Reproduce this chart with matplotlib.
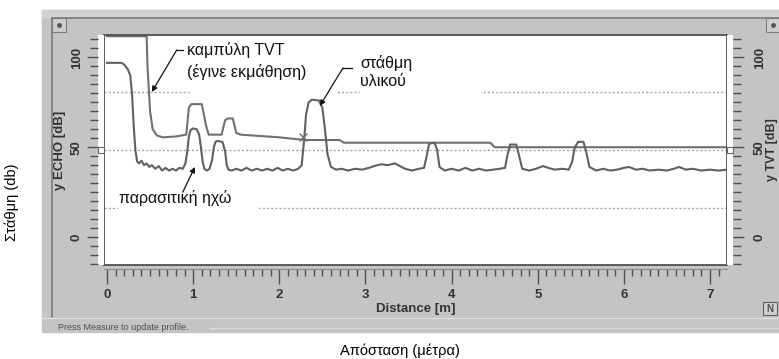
import numpy as np
import matplotlib
matplotlib.use("Agg")
import matplotlib.pyplot as plt
from matplotlib.patches import Rectangle
from matplotlib.ticker import MultipleLocator, FixedLocator

plt.rcParams['font.family'] = ['Liberation Sans', 'DejaVu Sans']

# echo profile (distance in m, level in dB)
echo_x = [0.00, 0.17, 0.20, 0.24, 0.27, 0.29, 0.31, 0.33, 0.35, 0.37,
          0.40, 0.43, 0.46, 0.49, 0.52, 0.56, 0.60, 0.64, 0.68, 0.72,
          0.76, 0.80, 0.84, 0.88, 0.91, 0.93, 0.95, 0.97, 1.00, 1.04,
          1.07, 1.09, 1.11, 1.13, 1.16, 1.19, 1.22, 1.24, 1.26, 1.28,
          1.34, 1.37, 1.39, 1.41, 1.45, 1.50, 1.56, 1.62, 1.68, 1.74,
          1.80, 1.86, 1.92, 1.98, 2.04, 2.10, 2.16, 2.22, 2.26, 2.29,
          2.31, 2.34, 2.38, 2.46, 2.50, 2.53, 2.56, 2.60, 2.66, 2.72,
          2.80, 2.88, 2.96, 3.04, 3.10, 3.18, 3.26, 3.34, 3.40, 3.46,
          3.54, 3.62, 3.68, 3.71, 3.74, 3.80, 3.83, 3.86, 3.92, 4.00,
          4.08, 4.16, 4.24, 4.32, 4.40, 4.48, 4.56, 4.62, 4.65, 4.68,
          4.75, 4.78, 4.82, 4.90, 4.98, 5.06, 5.12, 5.20, 5.28, 5.36,
          5.40, 5.43, 5.47, 5.53, 5.56, 5.60, 5.68, 5.76, 5.84, 5.92,
          6.00, 6.06, 6.14, 6.22, 6.30, 6.40, 6.50, 6.58, 6.64, 6.72,
          6.80, 6.90, 7.00, 7.10, 7.20]
echo_db = [97, 97, 96, 93.5, 90, 80, 62, 48, 42, 41,
           42.5, 40, 41, 39, 40, 38, 39.5, 37, 38.5, 37,
           38, 37, 38.5, 38, 41, 47, 56, 59.5, 60.5, 60,
           57, 50, 42, 38, 37, 38, 43, 50, 53, 53.5,
           53, 48, 40, 37.5, 37, 38, 37, 38.5, 37, 38,
           37, 38, 37, 38.5, 37, 38, 37, 38, 40, 55,
           68, 75, 76.5, 76, 72, 60, 46, 39, 37.5, 38,
           37, 38, 37.5, 38.5, 39.5, 40.5, 40, 41, 39.5, 38,
           37, 38, 38.5, 45, 52, 52.5, 49, 39, 37, 38,
           37, 38.5, 37, 38, 37, 37.5, 38, 38.5, 46, 51.5,
           51.5, 46, 38, 37, 38, 39.5, 38.5, 37.5, 38, 37.5,
           42, 50, 53, 53, 48, 39, 37, 38, 37, 37.5,
           38.5, 39, 37.5, 38, 37, 37.5, 37, 38, 39, 37.5,
           38, 37, 37.5, 37, 37.5]

# learned TVT curve (first part sits on the top edge of the display)
tvt_x = [0.00, 0.46, 0.47, 0.50, 0.53, 0.58, 0.65, 0.80, 0.92, 0.95,
         0.98, 1.10, 1.15, 1.18, 1.33, 1.37, 1.40, 1.46, 1.50, 1.55,
         2.00, 2.30, 2.70, 2.75, 4.45, 4.50, 7.20]
tvt_db = [111.8, 111.8, 95, 70, 60, 56.5, 55.5, 56, 57, 72,
          74, 74, 62, 57, 57, 65, 66, 66, 58, 57,
          55.5, 54, 54, 52.5, 52.5, 50, 50]

cross_x, cross_db = 2.28, 55.5

x_major = [0, 1, 2, 3, 4, 5, 6, 7]
y_major = [0, 50, 100]
grid_db = [16.4, 48.5, 80.5]

W, H = 779, 359
XLIM = (-0.035, 7.197)
YLIM = (-15.6, 112.5)

grey = '#c4c4c4'
dark = '#505050'
line_c = '#707070'


def fr(x0, y0, x1, y1):
    return [x0 / W, 1 - y1 / H, (x1 - x0) / W, (y1 - y0) / H]


fig = plt.figure(figsize=(W / 100, H / 100), dpi=100)

# window background drawn in pixel coords
bg = fig.add_axes([0, 0, 1, 1], zorder=-1)
bg.set_xlim(0, W)
bg.set_ylim(H, 0)
bg.axis('off')
bg.add_patch(Rectangle((42, 10), W - 42, 322, color=grey))
bg.add_patch(Rectangle((42, 10), W - 42, 7, color='#d2d2d2'))
bg.plot([52, W], [17.5, 17.5], color='#7a7a7a', lw=1.2)
bg.plot([52, 52], [17.5, 317], color='#7a7a7a', lw=1.2)
bg.plot([42, W], [318, 318], color='#e0e0e0', lw=1.0)
bg.plot([210, W], [327.5, 327.5], color='#dcdcdc', lw=1.0)
for bx, by in [(52, 18), (766, 18)]:
    bg.add_patch(Rectangle((bx, by), 14, 14, facecolor='#cdcdcd',
                           edgecolor='#808080', lw=0.8))
    bg.plot(bx + 7, by + 7, 'o', color='#555555', ms=2.5)
bg.add_patch(Rectangle((763, 302), 14, 13, facecolor='#d0d0d0',
                       edgecolor='#606060', lw=0.8))
bg.text(770, 308.5, 'N', ha='center', va='center', fontsize=7,
        fontweight='bold', color='#505050')
bg.text(58, 328, 'Press Measure to update profile.', fontsize=6.5,
        color='#505050', va='center', ha='left')
bg.text(12, 202, 'Στάθμη (db)', rotation=90, fontsize=10.5,
        ha='center', va='center')
bg.text(400, 351, 'Απόσταση (μέτρα)', fontsize=10.5,
        ha='center', va='center')

# main plot area
ax = fig.add_axes(fr(104, 35, 727, 265))
ax.set_xlim(*XLIM)
ax.set_ylim(*YLIM)
ax.set_facecolor('white')
ax.set_xticks([])
ax.set_yticks([])
for s in ax.spines.values():
    s.set_color(dark)
    s.set_linewidth(1.3)

for g in grid_db:
    ax.axhline(g, color='#a8a8a8', lw=1.0, ls=(0, (1.5, 1.5)), zorder=0.5)

# white boxes behind the annotations
for x0, x1, y0, y1 in [(0.96, 2.65, 76.5, 112), (2.94, 4.33, 76.5, 107),
                       (0.13, 1.74, 5, 29)]:
    ax.add_patch(Rectangle((x0, y0), x1 - x0, y1 - y0, color='white',
                           zorder=1))

ax.plot(tvt_x, tvt_db, color=line_c, lw=1.5, zorder=2)
ax.plot(echo_x, echo_db, color='#606060', lw=1.5, zorder=3)
ax.plot(cross_x, cross_db, marker='x', color='#707070', ms=6, mew=1.0,
        zorder=3)

# annotations
txt = dict(fontsize=11.5, color='#111111', zorder=5)
ax.text(0.93, 104.2, 'καμπύλη TVT', va='center', ha='left', **txt)
ax.text(0.93, 91.9, '(έγινε εκμάθηση)', va='center', ha='left', **txt)
ax.text(2.94, 96.9, 'στάθμη', va='center', ha='left', **txt)
ax.text(2.94, 86.4, 'υλικού', va='center', ha='left', **txt)
ax.text(0.14, 21.7, 'παρασιτική ηχώ', va='center', ha='left', **txt)

arr = dict(arrowstyle='-|>', color='#111111', lw=0.9, mutation_scale=8,
           shrinkA=0, shrinkB=0)
ax.plot([0.81, 0.88], [104.2, 104.2], color='#111111', lw=0.9, zorder=5)
ax.annotate('', xy=(0.52, 80.8), xytext=(0.81, 104.2), arrowprops=arr,
            zorder=5)
ax.plot([2.74, 2.84], [94.2, 94.2], color='#111111', lw=0.9, zorder=5)
ax.annotate('', xy=(2.47, 73), xytext=(2.74, 94.2), arrowprops=arr,
            zorder=5)
ax.annotate('', xy=(1.02, 39), xytext=(0.88, 25), arrowprops=arr,
            zorder=5)

tick_font = dict(fontsize=9.5, fontweight='bold', color='#333333')

# left ruler
axl = fig.add_axes(fr(98, 35, 104, 265))
axl.set_ylim(*YLIM)
axl.set_xlim(0, 1)
axl.set_facecolor('white')
axl.set_xticks([])
for s in ['top', 'bottom', 'left', 'right']:
    axl.spines[s].set_visible(False)
axl.yaxis.set_major_locator(FixedLocator(y_major))
axl.yaxis.set_minor_locator(MultipleLocator(5))
axl.tick_params(axis='y', which='major', length=8, width=1, color=dark,
                pad=3)
axl.tick_params(axis='y', which='minor', length=6, width=1, color=dark)
axl.set_yticks(y_major, [str(v) for v in y_major], rotation=90, va='center',
               **tick_font)
axl.set_ylabel('y ECHO [dB]', fontsize=9.5, fontweight='bold',
               color='#333333')
axl.yaxis.set_label_coords(-5.3, 0.5)
axl.plot(0.5, 48.5, 's', mfc='none', mec='#666666', ms=4, mew=0.8,
         clip_on=False)

# right ruler
axr = fig.add_axes(fr(727, 35, 733, 265))
axr.set_ylim(*YLIM)
axr.set_xlim(0, 1)
axr.set_facecolor('white')
axr.set_xticks([])
for s in ['top', 'bottom', 'left', 'right']:
    axr.spines[s].set_visible(False)
axr.yaxis.tick_right()
axr.yaxis.set_major_locator(FixedLocator(y_major))
axr.yaxis.set_minor_locator(MultipleLocator(5))
axr.tick_params(axis='y', which='major', length=8, width=1, color=dark,
                pad=7)
axr.tick_params(axis='y', which='minor', length=6, width=1, color=dark)
axr.set_yticks(y_major, [str(v) for v in y_major], rotation=90, va='center',
               **tick_font)
axr.yaxis.set_label_position('right')
axr.set_ylabel('y TVT [dB]', fontsize=9, fontweight='bold',
               color='#333333', rotation=90)
axr.yaxis.set_label_coords(6.55, 0.5)
axr.plot(0.5, 48.5, 's', mfc='none', mec='#666666', ms=4, mew=0.8,
         clip_on=False)

# bottom ruler
axb = fig.add_axes(fr(104, 269, 727, 281))
axb.set_xlim(*XLIM)
axb.set_ylim(0, 1)
axb.patch.set_visible(False)
axb.set_yticks([])
for s in ['bottom', 'left', 'right']:
    axb.spines[s].set_visible(False)
axb.spines['top'].set_color('#8a8a8a')
axb.xaxis.set_major_locator(FixedLocator(x_major))
axb.xaxis.set_minor_locator(MultipleLocator(0.1))
axb.tick_params(axis='x', which='both', direction='in', top=True,
                bottom=False, labeltop=False, labelbottom=True,
                color=dark, width=1)
axb.tick_params(axis='x', which='major', length=11, pad=6)
axb.tick_params(axis='x', which='minor', length=5)
axb.set_xticks(x_major, [str(v) for v in x_major], **tick_font)
axb.set_xlabel('Distance [m]', fontsize=9.5, fontweight='bold',
               color='#333333', labelpad=1)

fig.savefig('out.png', dpi=100)
